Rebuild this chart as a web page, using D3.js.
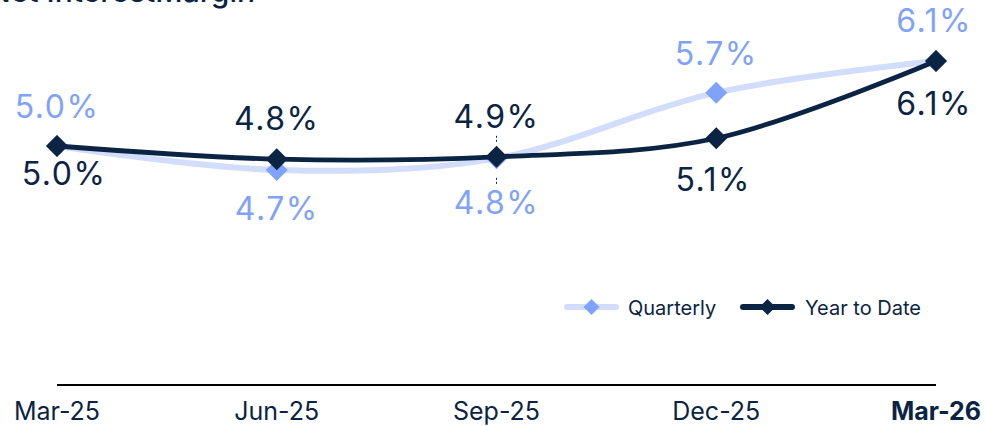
<!DOCTYPE html>
<html>
<head>
<meta charset="utf-8">
<script src="https://cdn.jsdelivr.net/npm/d3@7"></script>
<style>
  html, body { margin: 0; padding: 0; background: #fff; }
  svg text { font-family: "Inter", "Lato", sans-serif; }
</style>
</head>
<body>
<svg id="chart" width="987" height="426"></svg>
<script>
var width = 987;
var height = 426;

// data
var periods = ["Mar-25", "Jun-25", "Sep-25", "Dec-25", "Mar-26"];
var quarterly = [5.0, 4.69, 4.84, 5.69, 6.1];
var yearToDate = [5.0, 4.83, 4.86, 5.1, 6.1];
var seriesNames = ["Quarterly", "Year to Date"];

// data label offsets from each marker (Excel hand placed them)
var quarterlyLabelDy = [-28, 50, 56, -28, -29];
var quarterlyLabelDx = [0, 0, 0, 0, -2];
var ytdLabelDy = [39, -29, -29, 53, 54];
var ytdLabelDx = [7, 0, 0, -3, -2];

var NAVY = "#0b2444";
var LIGHT_LINE = "#d2ddfc";
var LIGHT_MARK = "#7fa3fb";

var svg = d3.select("#chart");

var x = d3.scalePoint()
    .domain(periods)
    .range([57, 936]);

var y = d3.scaleLinear()
    .domain([5.0, 6.1])
    .range([146, 61]);

var fmt = function (v) { return d3.format(".1f")(v) + "%"; };

// diamond path (square turned 45deg)
function diamond(r) {
    return "M0," + (-r) + "L" + r + ",0L0," + r + "L" + (-r) + ",0Z";
}

// title, cut off by the top edge like in the source
svg.append("text")
    .attr("x", 255)
    .attr("y", 2)
    .attr("text-anchor", "end")
    .attr("font-size", 30)
    .attr("font-weight", 500)
    .attr("fill", NAVY)
    .text("Net InterestMargin");

// x axis line
var axisY = 385;
svg.append("line")
    .attr("x1", x(periods[0]))
    .attr("x2", x(periods[periods.length - 1]))
    .attr("y1", axisY)
    .attr("y2", axisY)
    .attr("stroke", "#000")
    .attr("stroke-width", 2);

svg.selectAll("text.tick")
    .data(periods)
    .enter().append("text")
    .attr("class", "tick")
    .attr("x", function (d) { return x(d); })
    .attr("y", 420)
    .attr("text-anchor", "middle")
    .attr("font-size", 25)
    .attr("font-weight", function (d, i) { return i === periods.length - 1 ? 700 : 400; })
    .attr("fill", NAVY)
    .text(function (d) { return d; });

var line = d3.line()
    .x(function (d, i) { return x(periods[i]); })
    .y(function (d) { return y(d); })
    .curve(d3.curveCardinal.tension(0));

function drawSeries(values, lineColor, markColor, lineWidth) {
    var g = svg.append("g");
    g.append("path")
        .datum(values)
        .attr("d", line)
        .attr("fill", "none")
        .attr("stroke", lineColor)
        .attr("stroke-width", lineWidth)
        .attr("stroke-linecap", "round");

    g.selectAll("path.mark")
        .data(values)
        .enter().append("path")
        .attr("class", "mark")
        .attr("d", diamond(11))
        .attr("transform", function (d, i) {
            return "translate(" + x(periods[i]) + "," + y(d) + ")";
        })
        .attr("fill", markColor);
    return g;
}

function drawLabels(values, color, dx, dy) {
    svg.selectAll(null)
        .data(values)
        .enter().append("text")
        .attr("x", function (d, i) { return x(periods[i]) + dx[i]; })
        .attr("y", function (d, i) { return y(d) + dy[i]; })
        .attr("text-anchor", "middle")
        .attr("font-size", 32)
        .attr("letter-spacing", 1.5)
        .attr("fill", color)
        .text(fmt);
}

drawSeries(quarterly, LIGHT_LINE, LIGHT_MARK, 6);
drawSeries(yearToDate, NAVY, NAVY, 4.8);
drawLabels(quarterly, LIGHT_MARK, quarterlyLabelDx, quarterlyLabelDy);
drawLabels(yearToDate, NAVY, ytdLabelDx, ytdLabelDy);

// leader lines for the crowded Sep-25 labels
var sepX = x(periods[2]);
var sepY = y(yearToDate[2]);
[[sepY - 21, sepY - 15], [sepY + 21, sepY + 27]].forEach(function (s) {
    svg.append("line")
        .attr("x1", sepX).attr("x2", sepX)
        .attr("y1", s[0]).attr("y2", s[1])
        .attr("stroke", NAVY)
        .attr("stroke-width", 1)
        .attr("stroke-dasharray", "2,2");
});

// legend
var legend = svg.append("g").attr("transform", "translate(567,307)");
var legendItems = [
    { name: seriesNames[0], line: LIGHT_LINE, mark: LIGHT_MARK, x: 0, textX: 61 },
    { name: seriesNames[1], line: NAVY, mark: NAVY, x: 176, textX: 238 }
];
legendItems.forEach(function (d) {
    legend.append("line")
        .attr("x1", d.x).attr("x2", d.x + 49)
        .attr("y1", 0).attr("y2", 0)
        .attr("stroke", d.line)
        .attr("stroke-width", 6)
        .attr("stroke-linecap", "round");
    legend.append("path")
        .attr("d", diamond(8))
        .attr("transform", "translate(" + (d.x + 24.5) + ",0)")
        .attr("fill", d.mark);
    legend.append("text")
        .attr("x", d.textX)
        .attr("y", 8)
        .attr("font-size", 20)
        .attr("fill", NAVY)
        .text(d.name);
});
</script>
</body>
</html>
